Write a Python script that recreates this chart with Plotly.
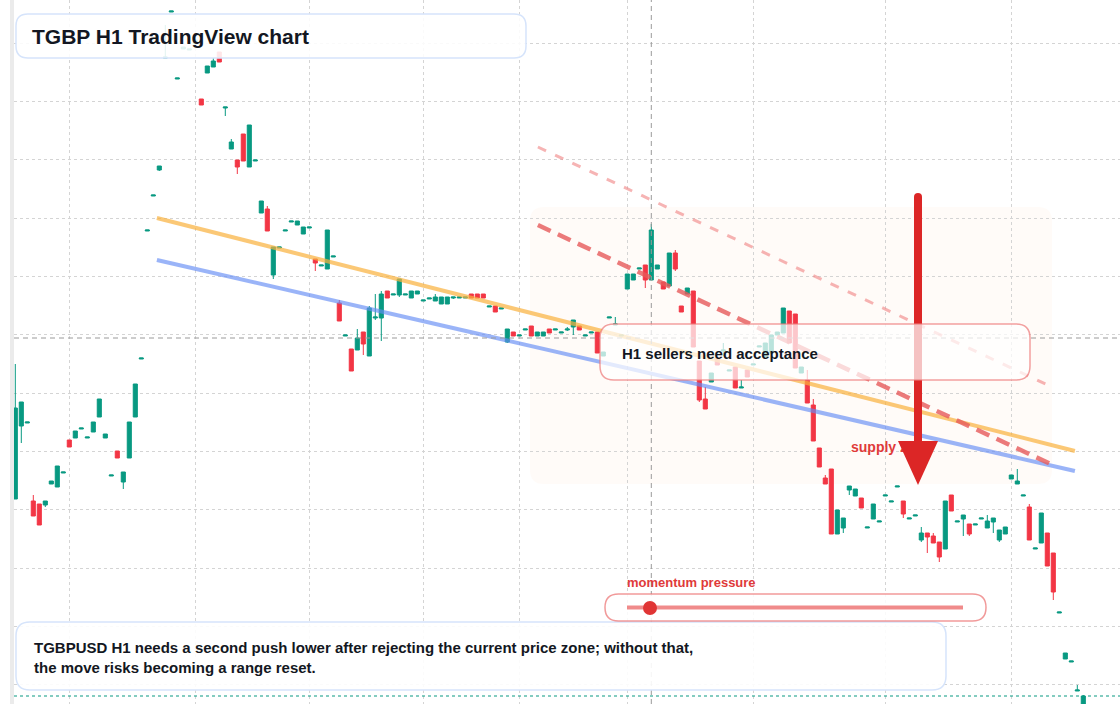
import plotly.graph_objects as go

# ---------------- data (TGBPUSD H1 candles) ----------------
candle_index = list(range(179))

opens = [
    1.29501, 1.29574, 1.29577, 1.29499, 1.29496, 1.29495, 1.29516, 1.29513, 1.29527, 1.29560,
    1.29562, 1.29571, 1.29562, 1.29568, 1.29583, 1.29562, 1.29524, 1.29549, 1.29518, 1.29542,
    1.29583, 1.29641, 1.29769, 1.29804, 1.29830, 1.29942, 1.29988, 1.29921, 1.29951, 1.29950,
    1.29956, 1.29901, 1.29927, 1.29933, 1.29948, 1.29892, 1.29851, 1.29840, 1.29866, 1.29833,
    1.29839, 1.29787, 1.29791, 1.29725, 1.29752, 1.29769, 1.29778, 1.29775, 1.29766, 1.29772,
    1.29741, 1.29734, 1.29731, 1.29743, 1.29697, 1.29664, 1.29651, 1.29650, 1.29668, 1.29644,
    1.29682, 1.29682, 1.29709, 1.29705, 1.29705, 1.29705, 1.29702, 1.29706, 1.29699, 1.29701,
    1.29699, 1.29696, 1.29696, 1.29702, 1.29702, 1.29702, 1.29706, 1.29706, 1.29706, 1.29693,
    1.29694, 1.29691, 1.29658, 1.29668, 1.29664, 1.29670, 1.29674, 1.29664, 1.29664, 1.29671,
    1.29670, 1.29667, 1.29670, 1.29673, 1.29674, 1.29664, 1.29667, 1.29668, 1.29644, 1.29682,
    1.29675, 1.29664, 1.29711, 1.29720, 1.29731, 1.29735, 1.29720, 1.29731, 1.29718, 1.29714,
    1.29747, 1.29694, 1.29706, 1.29709, 1.29639, 1.29601, 1.29618, 1.29642, 1.29649, 1.29629,
    1.29633, 1.29612, 1.29630, 1.29635, 1.29653, 1.29643, 1.29647, 1.29665, 1.29667, 1.29689,
    1.29686, 1.29627, 1.29620, 1.29595, 1.29552, 1.29522, 1.29531, 1.29466, 1.29472, 1.29510,
    1.29504, 1.29502, 1.29472, 1.29481, 1.29478, 1.29504, 1.29498, 1.29513, 1.29499, 1.29481,
    1.29484, 1.29460, 1.29467, 1.29464, 1.29458, 1.29451, 1.29505, 1.29478, 1.29481, 1.29476,
    1.29475, 1.29481, 1.29472, 1.29478, 1.29460, 1.29466, 1.29521, 1.29516, 1.29504, 1.29493,
    1.29451, 1.29457, 1.29467, 1.29447, 1.29387, 1.29341, 1.29338, 1.29309, 1.29290,
]
highs = [
    1.29636, 1.29598, 1.29578, 1.29505, 1.29496, 1.29499, 1.29519, 1.29534, 1.29528, 1.29560,
    1.29569, 1.29572, 1.29563, 1.29578, 1.29601, 1.29566, 1.29525, 1.29549, 1.29528, 1.29578,
    1.29616, 1.29642, 1.29770, 1.29805, 1.29834, 1.29975, 1.29989, 1.29922, 1.29953, 1.29951,
    1.29960, 1.29901, 1.29934, 1.29942, 1.29948, 1.29893, 1.29861, 1.29840, 1.29866, 1.29875,
    1.29840, 1.29799, 1.29794, 1.29753, 1.29753, 1.29770, 1.29779, 1.29779, 1.29773, 1.29773,
    1.29741, 1.29735, 1.29770, 1.29744, 1.29700, 1.29665, 1.29651, 1.29671, 1.29668, 1.29694,
    1.29706, 1.29709, 1.29709, 1.29706, 1.29721, 1.29706, 1.29709, 1.29709, 1.29700, 1.29702,
    1.29706, 1.29703, 1.29703, 1.29703, 1.29703, 1.29703, 1.29706, 1.29706, 1.29706, 1.29694,
    1.29694, 1.29692, 1.29671, 1.29668, 1.29665, 1.29671, 1.29674, 1.29668, 1.29668, 1.29671,
    1.29671, 1.29668, 1.29673, 1.29680, 1.29674, 1.29665, 1.29668, 1.29668, 1.29648, 1.29683,
    1.29683, 1.29665, 1.29726, 1.29726, 1.29732, 1.29735, 1.29776, 1.29735, 1.29718, 1.29747,
    1.29750, 1.29694, 1.29712, 1.29709, 1.29639, 1.29613, 1.29627, 1.29642, 1.29657, 1.29630,
    1.29633, 1.29620, 1.29630, 1.29636, 1.29654, 1.29657, 1.29665, 1.29668, 1.29692, 1.29689,
    1.29686, 1.29633, 1.29630, 1.29601, 1.29552, 1.29525, 1.29531, 1.29490, 1.29482, 1.29514,
    1.29511, 1.29502, 1.29473, 1.29496, 1.29479, 1.29505, 1.29499, 1.29514, 1.29499, 1.29482,
    1.29485, 1.29473, 1.29467, 1.29467, 1.29458, 1.29499, 1.29505, 1.29479, 1.29485, 1.29476,
    1.29476, 1.29482, 1.29485, 1.29482, 1.29470, 1.29473, 1.29525, 1.29531, 1.29505, 1.29496,
    1.29452, 1.29487, 1.29467, 1.29447, 1.29388, 1.29347, 1.29339, 1.29315, 1.29305,
]
lows = [
    1.29501, 1.29557, 1.29577, 1.29484, 1.29475, 1.29493, 1.29516, 1.29513, 1.29527, 1.29553,
    1.29562, 1.29571, 1.29562, 1.29568, 1.29583, 1.29562, 1.29524, 1.29542, 1.29511, 1.29542,
    1.29583, 1.29641, 1.29769, 1.29804, 1.29829, 1.29942, 1.29988, 1.29921, 1.29951, 1.29950,
    1.29956, 1.29895, 1.29927, 1.29933, 1.29938, 1.29884, 1.29851, 1.29826, 1.29839, 1.29833,
    1.29839, 1.29787, 1.29769, 1.29721, 1.29752, 1.29769, 1.29778, 1.29775, 1.29766, 1.29772,
    1.29729, 1.29734, 1.29731, 1.29743, 1.29679, 1.29664, 1.29629, 1.29650, 1.29645, 1.29644,
    1.29680, 1.29659, 1.29702, 1.29705, 1.29703, 1.29705, 1.29702, 1.29706, 1.29699, 1.29701,
    1.29699, 1.29696, 1.29696, 1.29701, 1.29702, 1.29702, 1.29702, 1.29702, 1.29702, 1.29693,
    1.29688, 1.29691, 1.29657, 1.29664, 1.29664, 1.29670, 1.29664, 1.29664, 1.29664, 1.29667,
    1.29670, 1.29667, 1.29669, 1.29665, 1.29670, 1.29664, 1.29667, 1.29647, 1.29644, 1.29682,
    1.29675, 1.29664, 1.29711, 1.29720, 1.29731, 1.29712, 1.29720, 1.29731, 1.29711, 1.29714,
    1.29729, 1.29688, 1.29706, 1.29653, 1.29598, 1.29591, 1.29618, 1.29635, 1.29644, 1.29629,
    1.29612, 1.29612, 1.29623, 1.29635, 1.29653, 1.29643, 1.29647, 1.29665, 1.29667, 1.29657,
    1.29632, 1.29627, 1.29597, 1.29559, 1.29533, 1.29516, 1.29466, 1.29466, 1.29467, 1.29505,
    1.29504, 1.29492, 1.29472, 1.29481, 1.29478, 1.29504, 1.29498, 1.29513, 1.29482, 1.29481,
    1.29484, 1.29458, 1.29447, 1.29457, 1.29438, 1.29451, 1.29489, 1.29478, 1.29464, 1.29464,
    1.29475, 1.29481, 1.29472, 1.29467, 1.29458, 1.29466, 1.29521, 1.29516, 1.29504, 1.29460,
    1.29451, 1.29457, 1.29434, 1.29400, 1.29387, 1.29341, 1.29338, 1.29309, 1.29290,
]
closes = [
    1.29592, 1.29598, 1.29578, 1.29484, 1.29475, 1.29499, 1.29519, 1.29534, 1.29528, 1.29553,
    1.29569, 1.29572, 1.29563, 1.29578, 1.29601, 1.29566, 1.29525, 1.29542, 1.29528, 1.29578,
    1.29616, 1.29642, 1.29770, 1.29805, 1.29834, 1.29943, 1.29989, 1.29922, 1.29953, 1.29951,
    1.29960, 1.29895, 1.29934, 1.29939, 1.29938, 1.29893, 1.29858, 1.29833, 1.29839, 1.29875,
    1.29840, 1.29799, 1.29769, 1.29753, 1.29753, 1.29770, 1.29779, 1.29779, 1.29773, 1.29773,
    1.29737, 1.29735, 1.29770, 1.29744, 1.29679, 1.29665, 1.29629, 1.29662, 1.29656, 1.29692,
    1.29683, 1.29706, 1.29702, 1.29706, 1.29721, 1.29706, 1.29709, 1.29709, 1.29700, 1.29702,
    1.29703, 1.29703, 1.29703, 1.29703, 1.29703, 1.29703, 1.29702, 1.29702, 1.29702, 1.29694,
    1.29688, 1.29692, 1.29671, 1.29664, 1.29665, 1.29671, 1.29664, 1.29668, 1.29668, 1.29667,
    1.29671, 1.29668, 1.29671, 1.29680, 1.29670, 1.29665, 1.29668, 1.29647, 1.29648, 1.29683,
    1.29676, 1.29665, 1.29726, 1.29726, 1.29732, 1.29720, 1.29770, 1.29735, 1.29711, 1.29747,
    1.29731, 1.29688, 1.29712, 1.29653, 1.29600, 1.29591, 1.29627, 1.29635, 1.29650, 1.29630,
    1.29612, 1.29613, 1.29623, 1.29636, 1.29654, 1.29657, 1.29665, 1.29668, 1.29692, 1.29657,
    1.29632, 1.29633, 1.29597, 1.29559, 1.29533, 1.29516, 1.29466, 1.29490, 1.29482, 1.29514,
    1.29511, 1.29492, 1.29473, 1.29496, 1.29479, 1.29505, 1.29499, 1.29514, 1.29486, 1.29482,
    1.29485, 1.29467, 1.29463, 1.29457, 1.29443, 1.29499, 1.29489, 1.29479, 1.29485, 1.29466,
    1.29476, 1.29482, 1.29479, 1.29482, 1.29470, 1.29473, 1.29525, 1.29519, 1.29505, 1.29460,
    1.29452, 1.29487, 1.29434, 1.29408, 1.29388, 1.29347, 1.29339, 1.29310, 1.29304,
]

# trend / channel lines (candle index, price)
orange_line_x = [23.6, 176.6]
orange_line_y = [1.29782, 1.29549]
blue_line_x = [23.6, 176.6]
blue_line_y = [1.29740, 1.29529]
red_dash_x = [87.1, 172.9]
red_dash_y = [1.29775, 1.29535]
red_light_x = [87.1, 172.8]
red_light_y = [1.29853, 1.29613]

crosshair_index = 106
crosshair_price = 1.29662

x_grid_ticks = [9, 30, 49, 68, 84, 102, 123, 145, 166]
y_grid_ticks = [1.29957, 1.29899, 1.29841, 1.29782, 1.29724, 1.29666, 1.29607,
                1.29549, 1.29491, 1.29432, 1.29374, 1.29316]

title_text = "TGBP H1 TradingView chart"
callout_text = "H1 sellers need acceptance"
zone_label = "supply zone"
momentum_label = "momentum pressure"
note_text = ("TGBPUSD H1 needs a second push lower after rejecting the current price zone; without that,"
             "<br>the move risks becoming a range reset.")

# ---------------- layout helpers ----------------
W, H = 1120, 704
ML = 14
X_RANGE = [(ML - 15.3) / 6.0, (W - 15.3) / 6.0]
Y_RANGE = [1.29296, 1.30000]

GREEN = "#089981"
RED = "#f23645"
FONT = "Liberation Sans, Arial, sans-serif"
DARK = "#131722"


def PX(x):
    return (x - ML) / (W - ML)


def PY(y):
    return 1 - y / H


def rrect(x0, y0, x1, y1, r):
    pts = [
        ("M", [(x0 + r, y0)]), ("L", [(x1 - r, y0)]), ("Q", [(x1, y0), (x1, y0 + r)]),
        ("L", [(x1, y1 - r)]), ("Q", [(x1, y1), (x1 - r, y1)]), ("L", [(x0 + r, y1)]),
        ("Q", [(x0, y1), (x0, y1 - r)]), ("L", [(x0, y0 + r)]), ("Q", [(x0, y0), (x0 + r, y0)]),
    ]
    s = ""
    for cmd, ps in pts:
        s += cmd + " " + " ".join(f"{PX(a):.6f},{PY(b):.6f}" for a, b in ps) + " "
    return s + "Z"


def poly(points):
    s = "M " + " L ".join(f"{PX(a):.6f},{PY(b):.6f}" for a, b in points)
    return s + " Z"


def px_to_index(x):
    return (x - 15.3) / 6.0


def py_to_price(y):
    return Y_RANGE[1] - (y / H) * (Y_RANGE[1] - Y_RANGE[0])


fig = go.Figure()

fig.add_trace(go.Candlestick(
    x=candle_index, open=opens, high=highs, low=lows, close=closes,
    increasing=dict(line=dict(color=GREEN, width=1), fillcolor=GREEN),
    decreasing=dict(line=dict(color=RED, width=1), fillcolor=RED),
    whiskerwidth=0, hoverinfo="skip", showlegend=False,
))

fig.add_trace(go.Scatter(x=orange_line_x, y=orange_line_y, mode="lines",
                         line=dict(color="rgba(250,176,60,0.7)", width=4),
                         hoverinfo="skip", showlegend=False))
fig.add_trace(go.Scatter(x=blue_line_x, y=blue_line_y, mode="lines",
                         line=dict(color="rgba(100,140,245,0.65)", width=4),
                         hoverinfo="skip", showlegend=False))
fig.add_trace(go.Scatter(x=red_dash_x, y=red_dash_y, mode="lines",
                         line=dict(color="rgba(230,90,90,0.8)", width=4.5, dash="14px,8px"),
                         hoverinfo="skip", showlegend=False))
fig.add_trace(go.Scatter(x=red_light_x, y=red_light_y, mode="lines",
                         line=dict(color="rgba(240,130,130,0.6)", width=3, dash="9px,10px"),
                         hoverinfo="skip", showlegend=False))

# "supply zone" text sits under the arrow head
fig.add_trace(go.Scatter(x=[px_to_index(851)], y=[py_to_price(448)], mode="text",
                         text=[f"<b>{zone_label}</b>"], textposition="middle right",
                         textfont=dict(family=FONT, size=14, color="#e03a3a"),
                         hoverinfo="skip", showlegend=False))

shapes = []
# supply zone shading
shapes.append(dict(type="path", xref="paper", yref="paper", path=rrect(530, 207, 1052, 484, 14),
                   fillcolor="rgba(255,232,212,0.16)", line=dict(width=0), layer="below"))
# left strip
shapes.append(dict(type="rect", xref="paper", yref="paper", x0=PX(10), x1=PX(14), y0=0, y1=1,
                   fillcolor="#ebebeb", line=dict(width=0), layer="above"))
# crosshair
shapes.append(dict(type="line", xref="x", yref="paper", x0=crosshair_index, x1=crosshair_index,
                   y0=0, y1=1, line=dict(color="#9a9a9a", width=1, dash="5px,4px"), layer="above"))
shapes.append(dict(type="line", xref="paper", yref="y", x0=0, x1=1, y0=crosshair_price,
                   y1=crosshair_price, line=dict(color="#9a9a9a", width=1, dash="5px,4px"),
                   layer="above"))
# last price line
shapes.append(dict(type="line", xref="paper", yref="y", x0=0, x1=1, y0=closes[-1], y1=closes[-1],
                   line=dict(color=GREEN, width=1, dash="dot"), layer="above"))
# arrow
shapes.append(dict(type="line", xref="paper", yref="paper", x0=PX(918), x1=PX(918),
                   y0=PY(197), y1=PY(443), line=dict(color="#dc2626", width=8), layer="above"))
shapes.append(dict(type="circle", xref="paper", yref="paper", x0=PX(914), x1=PX(922),
                   y0=PY(193), y1=PY(201), fillcolor="#dc2626", line=dict(width=0), layer="above"))
shapes.append(dict(type="path", xref="paper", yref="paper",
                   path=poly([(898, 441), (938, 441), (918, 485)]),
                   fillcolor="#dc2626", line=dict(width=0), layer="above"))
# callout box
shapes.append(dict(type="path", xref="paper", yref="paper", path=rrect(600, 324, 1030, 380, 14),
                   fillcolor="rgba(255,255,255,0.72)",
                   line=dict(color="rgba(236,120,120,0.7)", width=1.5), layer="above"))
# title box
shapes.append(dict(type="path", xref="paper", yref="paper", path=rrect(16, 14, 526, 58, 12),
                   fillcolor="rgba(255,255,255,0.88)", line=dict(color="#d6e4fb", width=1.5),
                   layer="above"))
# bottom note box
shapes.append(dict(type="path", xref="paper", yref="paper", path=rrect(16, 622, 946, 690, 14),
                   fillcolor="rgba(255,255,255,0.9)", line=dict(color="#d6e4fb", width=1.5),
                   layer="above"))
# momentum slider
shapes.append(dict(type="path", xref="paper", yref="paper", path=rrect(605, 594, 986, 621, 13.5),
                   fillcolor="rgba(255,255,255,0.85)",
                   line=dict(color="rgba(236,120,120,0.75)", width=1.5), layer="above"))
shapes.append(dict(type="line", xref="paper", yref="paper", x0=PX(627), x1=PX(963),
                   y0=PY(607.5), y1=PY(607.5), line=dict(color="rgba(236,110,110,0.8)", width=4),
                   layer="above"))
shapes.append(dict(type="circle", xref="paper", yref="paper", x0=PX(643), x1=PX(657),
                   y0=PY(601), y1=PY(615), fillcolor="#e03535", line=dict(width=0), layer="above"))

annotations = [
    dict(xref="paper", yref="paper", x=PX(30), y=PY(36), text=f"<b>{title_text}</b>",
         showarrow=False, xanchor="left", yanchor="middle",
         font=dict(family=FONT, size=21, color=DARK)),
    dict(xref="paper", yref="paper", x=PX(620), y=PY(353), text=f"<b>{callout_text}</b>",
         showarrow=False, xanchor="left", yanchor="middle",
         font=dict(family=FONT, size=15, color=DARK)),
    dict(xref="paper", yref="paper", x=PX(625), y=PY(582), text=f"<b>{momentum_label}</b>",
         showarrow=False, xanchor="left", yanchor="middle",
         font=dict(family=FONT, size=13, color="#e03a3a")),
    dict(xref="paper", yref="paper", x=PX(32), y=PY(657), text=f"<b>{note_text}</b>",
         showarrow=False, xanchor="left", yanchor="middle", align="left",
         font=dict(family=FONT, size=15, color=DARK)),
]

fig.update_layout(
    width=W, height=H,
    margin=dict(l=ML, r=0, t=0, b=0),
    paper_bgcolor="white", plot_bgcolor="white",
    shapes=shapes, annotations=annotations,
    showlegend=False, boxgap=0.2, boxgroupgap=0.15,
    xaxis=dict(range=X_RANGE, rangeslider=dict(visible=False), tickvals=x_grid_ticks,
               showticklabels=False, showgrid=True, gridcolor="#d4d4d4", griddash="dot",
               gridwidth=1, zeroline=False, showline=False, ticks=""),
    yaxis=dict(range=Y_RANGE, tickvals=y_grid_ticks, showticklabels=False, showgrid=True,
               gridcolor="#d4d4d4", griddash="dot", gridwidth=1, zeroline=False,
               showline=False, ticks=""),
)

fig.write_html("out.html")
